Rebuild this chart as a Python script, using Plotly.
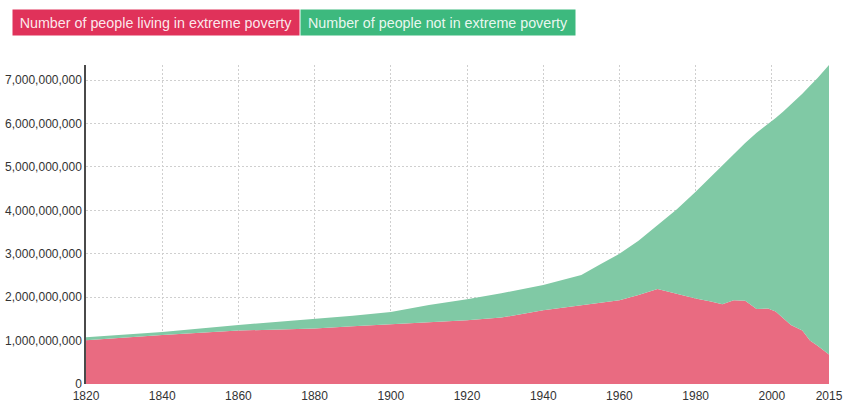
import plotly.graph_objects as go

years = [1820, 1840, 1860, 1880, 1890, 1900, 1910, 1920, 1929, 1940, 1950, 1955,
         1960, 1965, 1970, 1975, 1980, 1984, 1987, 1990, 1993, 1996, 1999, 2001,
         2003, 2005, 2008, 2010, 2012, 2015]
poverty_bn = [1.01, 1.13, 1.23, 1.28, 1.33, 1.37, 1.42, 1.47, 1.53, 1.70, 1.82, 1.88,
              1.93, 2.05, 2.19, 2.08, 1.97, 1.90, 1.84, 1.93, 1.92, 1.73, 1.74, 1.67,
              1.52, 1.36, 1.23, 1.00, 0.88, 0.68]
total_bn = [1.075, 1.20, 1.36, 1.49, 1.57, 1.66, 1.82, 1.95, 2.09, 2.28, 2.51, 2.76,
            3.00, 3.30, 3.65, 4.02, 4.43, 4.78, 5.04, 5.30, 5.55, 5.79, 5.99, 6.13,
            6.28, 6.44, 6.69, 6.87, 7.05, 7.35]

x_ticks = [1820, 1840, 1860, 1880, 1900, 1920, 1940, 1960, 1980, 2000, 2015]
y_ticks = [0, 1e9, 2e9, 3e9, 4e9, 5e9, 6e9, 7e9]

labels = ["Number of people living in extreme poverty", "Number of people not in extreme poverty"]
box_colors = ["#e0325a", "#3db97e"]
fill_colors = ["#e96b81", "#80c9a5"]

poverty = [v * 1e9 for v in poverty_bn]
total = [v * 1e9 for v in total_bn]

fig = go.Figure()
fig.add_trace(go.Scatter(x=years, y=poverty, name=labels[0], mode="lines",
                         line=dict(width=0, color=fill_colors[0]),
                         fill="tozeroy", fillcolor=fill_colors[0]))
fig.add_trace(go.Scatter(x=years, y=total, name=labels[1], mode="lines",
                         line=dict(width=0, color=fill_colors[1]),
                         fill="tonexty", fillcolor=fill_colors[1]))

W, H = 843, 402
L, R, T, B = 86, 14, 65, 18
pw, ph = W - L - R, H - T - B

def px_x(p):
    return (p - L) / pw

def px_y(p):
    return (H - B - p) / ph

legend_font = dict(family="Liberation Sans, Arial", size=14.3, color="rgba(255,255,255,0.9)")
fig.add_annotation(text=labels[0], xref="paper", yref="paper", x=px_x(12), y=px_y(22.5),
                   xanchor="left", yanchor="middle", showarrow=False, font=legend_font,
                   bgcolor=box_colors[0], width=280, height=19, borderpad=3, align="center")
fig.add_annotation(text=labels[1], xref="paper", yref="paper", x=px_x(300), y=px_y(22.5),
                   xanchor="left", yanchor="middle", showarrow=False, font=legend_font,
                   bgcolor=box_colors[1], width=268, height=19, borderpad=3, align="center")

grid = dict(showgrid=True, gridcolor="#cfcfcf", griddash="2px,2px", gridwidth=1)

fig.update_layout(
    width=W, height=H,
    margin=dict(l=L, r=R, t=T, b=B, autoexpand=False),
    paper_bgcolor="white", plot_bgcolor="white",
    showlegend=False,
    font=dict(family="Liberation Sans, Arial", size=12, color="#333"),
    xaxis=dict(range=[1820, 2015], tickvals=x_ticks, ticks="", zeroline=False,
               showline=False, automargin=False, ticklabeloverflow="allow",
               ticklabelstandoff=3, tickfont=dict(size=12, color="#333"), **grid),
    yaxis=dict(range=[0, 7.35e9], tickvals=y_ticks, tickformat=",d", ticks="",
               zeroline=False, showline=True, linecolor="#4a4a4a", linewidth=1.5,
               automargin=False, ticklabeloverflow="allow",
               tickfont=dict(size=12, color="#333"), **grid),
)

fig.write_html("out.html", config={"displayModeBar": False},
               post_script="document.body.style.margin='0';document.body.style.overflow='hidden';")
